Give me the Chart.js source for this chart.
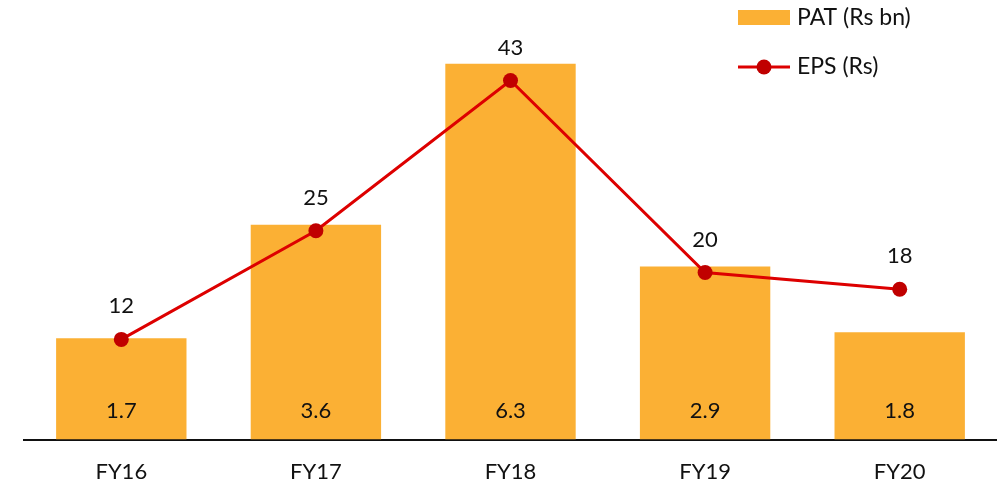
<!DOCTYPE html>
<html>
<head>
<meta charset="utf-8">
<script src="https://cdn.jsdelivr.net/npm/chart.js@4.4.1/dist/chart.umd.min.js"></script>
<style>
  html, body { margin: 0; padding: 0; background: #fff; overflow: hidden; }
  canvas { display: block; }
</style>
</head>
<body>
<canvas id="chart" width="997" height="489"></canvas>
<script>
const years = ['FY16', 'FY17', 'FY18', 'FY19', 'FY20'];
const patValues = [1.7, 3.6, 6.3, 2.9, 1.8];
const epsValues = [12, 25, 43, 20, 18];

const BAR_COLOR = '#FBB034';
const LINE_COLOR = '#DD0000';
const POINT_COLOR = '#C00000';
const FONT = 'Lato, "Open Sans", sans-serif';

// value labels: EPS above points, PAT inside bar bottom
const valueLabels = {
    id: 'valueLabels',
    afterDatasetsDraw(chart) {
        const ctx = chart.ctx;
        ctx.save();
        ctx.font = '22px ' + FONT;
        ctx.fillStyle = '#111';
        ctx.textAlign = 'center';
        ctx.textBaseline = 'middle';
        const yBase = chart.scales.y.bottom;
        // dataset 1 = bars, dataset 0 = line
        chart.getDatasetMeta(1).data.forEach((bar, i) => {
            ctx.fillText(patValues[i].toFixed(1), bar.x, yBase - 29);
        });
        chart.getDatasetMeta(0).data.forEach((pt, i) => {
            ctx.fillText(String(epsValues[i]), pt.x, pt.y - 33);
        });
        ctx.restore();
    }
};

// legend stacked in the top right corner
const cornerLegend = {
    id: 'cornerLegend',
    afterDraw(chart) {
        const ctx = chart.ctx;
        ctx.save();
        ctx.font = '23px ' + FONT;
        ctx.textBaseline = 'middle';
        ctx.textAlign = 'left';

        ctx.fillStyle = BAR_COLOR;
        ctx.fillRect(738, 10, 52, 15);
        ctx.fillStyle = '#111';
        ctx.fillText('PAT (Rs bn)', 797, 18);

        ctx.strokeStyle = LINE_COLOR;
        ctx.lineWidth = 3;
        ctx.beginPath();
        ctx.moveTo(738, 67);
        ctx.lineTo(790, 67);
        ctx.stroke();
        ctx.fillStyle = POINT_COLOR;
        ctx.beginPath();
        ctx.arc(764, 67, 7.5, 0, Math.PI * 2);
        ctx.fill();
        ctx.fillStyle = '#111';
        ctx.fillText('EPS (Rs)', 797, 67);
        ctx.restore();
    }
};

new Chart(document.getElementById('chart'), {
    data: {
        labels: years,
        datasets: [
            {
                type: 'line',
                label: 'EPS (Rs)',
                data: epsValues,
                yAxisID: 'y1',
                borderColor: LINE_COLOR,
                borderWidth: 3,
                pointRadius: 7.5,
                pointBorderWidth: 0,
                pointBackgroundColor: POINT_COLOR,
                pointBorderColor: POINT_COLOR,
                tension: 0,
                order: 0
            },
            {
                type: 'bar',
                label: 'PAT (Rs bn)',
                data: patValues,
                yAxisID: 'y',
                backgroundColor: BAR_COLOR,
                categoryPercentage: 1,
                barPercentage: 0.67,
                order: 1
            }
        ]
    },
    options: {
        responsive: false,
        animation: false,
        layout: { autoPadding: false, padding: { left: 24, right: 0, top: 22, bottom: -15 } },
        plugins: {
            legend: { display: false },
            tooltip: { enabled: false }
        },
        scales: {
            x: {
                grid: { display: false, drawTicks: false },
                border: { display: true, color: '#111', width: 2 },
                ticks: { color: '#111', font: { family: FONT, size: 22 }, padding: 19 }
            },
            y: {
                display: false,
                min: 0,
                max: 7
            },
            y1: {
                display: false,
                position: 'right',
                min: 0,
                max: 50
            }
        }
    },
    plugins: [valueLabels, cornerLegend]
});
</script>
</body>
</html>
